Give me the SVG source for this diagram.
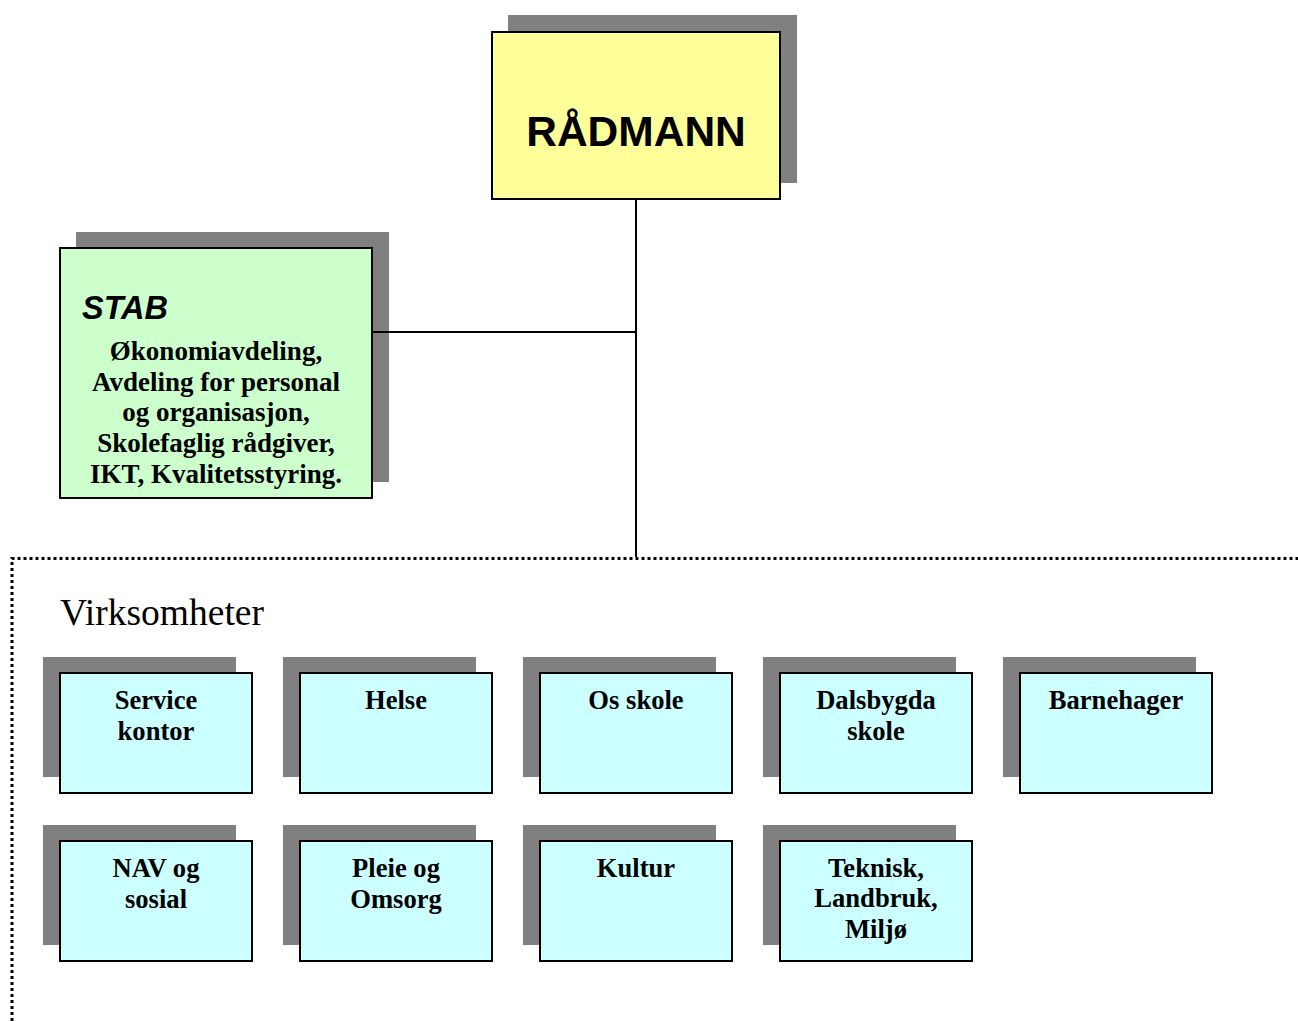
<svg xmlns="http://www.w3.org/2000/svg" width="1298" height="1021" viewBox="0 0 1298 1021">
<style>
.sh{fill:#808080}
.box{stroke:#000;stroke-width:2}
.v{fill:#CCFFFF}
.lbl{font-family:"Liberation Serif","Times New Roman",serif;font-weight:bold;font-size:26.6px;text-anchor:middle;fill:#000}
.stl{font-family:"Liberation Serif","Times New Roman",serif;font-weight:bold;font-size:27px;text-anchor:middle;fill:#000}
.conn{stroke:#000;stroke-width:2;fill:none}
</style>
<rect width="1298" height="1021" fill="#fff"/>
<path id="virksomheter-frame" d="M12 1021 V558.5 H1298" fill="none" stroke="#000" stroke-width="3" stroke-dasharray="3 3"/>
<g id="radmann">
<rect class="sh" x="508" y="15" width="289" height="168"/>
<rect class="box" x="492" y="32" width="288" height="167" fill="#FFFF99"/>
<text x="636" y="146" font-family="Liberation Sans, Arial, sans-serif" font-weight="bold" font-size="42.5" text-anchor="middle">RÅDMANN</text>
</g>
<g id="stab">
<rect class="sh" x="76" y="232" width="313" height="250"/>
<rect class="box" x="60" y="248" width="312" height="250" fill="#CCFFCC"/>
<text x="82" y="319" font-family="Liberation Sans, Arial, sans-serif" font-weight="bold" font-style="italic" font-size="32.5">STAB</text>
<text class="stl" x="216" y="360">Økonomiavdeling,</text>
<text class="stl" x="216" y="391">Avdeling for personal</text>
<text class="stl" x="216" y="421">og organisasjon,</text>
<text class="stl" x="216" y="452">Skolefaglig rådgiver,</text>
<text class="stl" x="216" y="483">IKT, Kvalitetsstyring.</text>
</g>
<g id="connectors">
<path class="conn" d="M636 200 V557 M373 332 H636"/>
</g>
<text id="virksomheter-title" x="60" y="625" font-family="Liberation Serif, Times New Roman, serif" font-size="37.5">Virksomheter</text>
<g id="service-kontor">
<rect class="sh" x="43" y="657" width="193" height="120"/>
<rect class="box v" x="60" y="673" width="192" height="120"/>
<text class="lbl" x="156" y="709">Service</text>
<text class="lbl" x="156" y="740">kontor</text>
</g>
<g id="helse">
<rect class="sh" x="283" y="657" width="193" height="120"/>
<rect class="box v" x="300" y="673" width="192" height="120"/>
<text class="lbl" x="396" y="709">Helse</text>
</g>
<g id="os-skole">
<rect class="sh" x="523" y="657" width="193" height="120"/>
<rect class="box v" x="540" y="673" width="192" height="120"/>
<text class="lbl" x="636" y="709">Os skole</text>
</g>
<g id="dalsbygda-skole">
<rect class="sh" x="763" y="657" width="193" height="120"/>
<rect class="box v" x="780" y="673" width="192" height="120"/>
<text class="lbl" x="876" y="709">Dalsbygda</text>
<text class="lbl" x="876" y="740">skole</text>
</g>
<g id="barnehager">
<rect class="sh" x="1003" y="657" width="193" height="120"/>
<rect class="box v" x="1020" y="673" width="192" height="120"/>
<text class="lbl" x="1116" y="709">Barnehager</text>
</g>
<g id="nav-og-sosial">
<rect class="sh" x="43" y="825" width="193" height="120"/>
<rect class="box v" x="60" y="841" width="192" height="120"/>
<text class="lbl" x="156" y="877">NAV og</text>
<text class="lbl" x="156" y="908">sosial</text>
</g>
<g id="pleie-og-omsorg">
<rect class="sh" x="283" y="825" width="193" height="120"/>
<rect class="box v" x="300" y="841" width="192" height="120"/>
<text class="lbl" x="396" y="877">Pleie og</text>
<text class="lbl" x="396" y="908">Omsorg</text>
</g>
<g id="kultur">
<rect class="sh" x="523" y="825" width="193" height="120"/>
<rect class="box v" x="540" y="841" width="192" height="120"/>
<text class="lbl" x="636" y="877">Kultur</text>
</g>
<g id="teknisk">
<rect class="sh" x="763" y="825" width="193" height="120"/>
<rect class="box v" x="780" y="841" width="192" height="120"/>
<text class="lbl" x="876" y="877">Teknisk,</text>
<text class="lbl" x="876" y="907">Landbruk,</text>
<text class="lbl" x="876" y="938">Miljø</text>
</g>
</svg>
